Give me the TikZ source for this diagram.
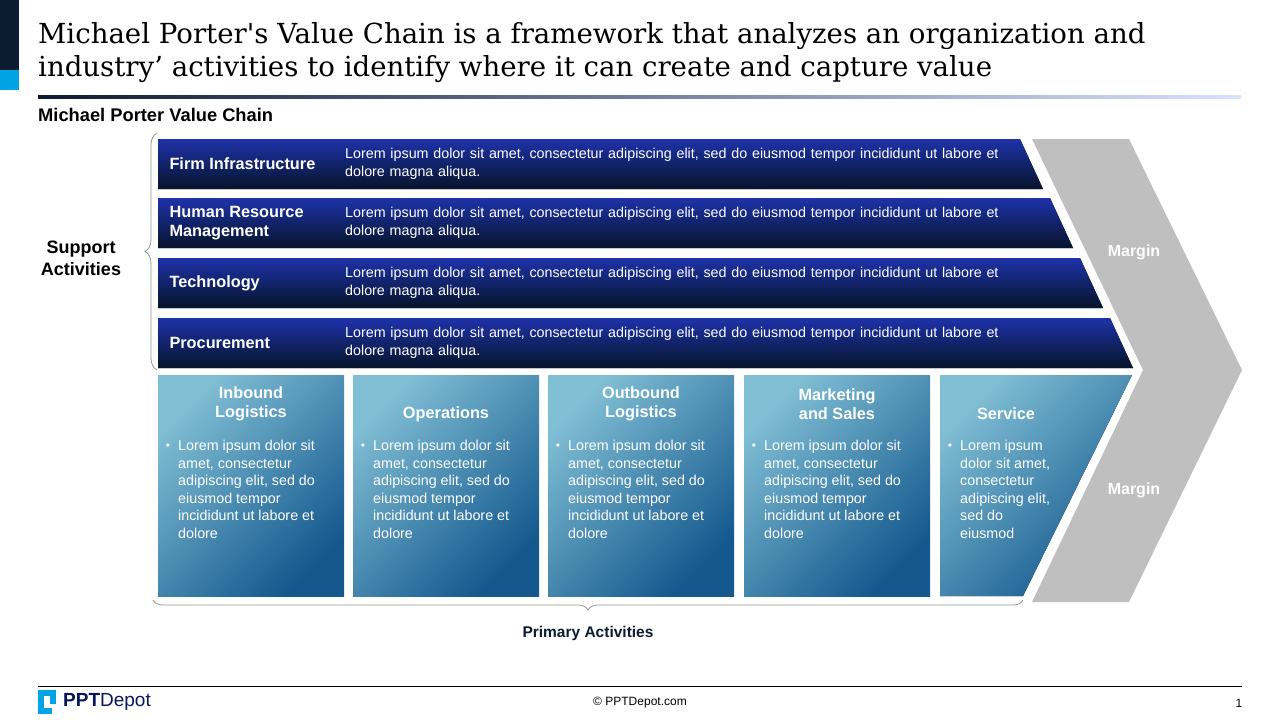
\documentclass[tikz,border=0pt]{standalone}
\usepackage{fontspec}
\setmainfont{Liberation Sans}
\newfontfamily\titlefont{DejaVu Serif}
\usetikzlibrary{decorations.pathreplacing}
\definecolor{navy}{RGB}{12,28,48}
\definecolor{cyanx}{RGB}{0,164,228}
\definecolor{bartop}{RGB}{30,50,170}
\definecolor{barbot}{RGB}{6,20,42}
\definecolor{plight}{RGB}{128,190,212}
\definecolor{pdark}{RGB}{20,88,142}
\definecolor{chev}{RGB}{191,191,191}
\definecolor{brace}{RGB}{150,150,150}
\tikzset{
  supbar/.style={top color=bartop,bottom color=barbot,draw=none},
  primbox/.style={shading=axis,top color=plight,bottom color=pdark,shading angle=45,draw=none},
  bhead/.style={text=white,font=\bfseries\fontsize{16.3}{19}\selectfont,anchor=west,align=left},
  bdesc/.style={text=white,font=\fontsize{14.3}{18}\selectfont,anchor=west,align=left,text width=680pt,inner sep=0pt},
  phead/.style={text=white,font=\bfseries\fontsize{16.3}{19}\selectfont,align=center},
  pbody/.style={text=white,font=\fontsize{14.3}{17.6}\selectfont,align=left,anchor=north west,inner sep=0pt},
  margin/.style={text=white,font=\bfseries\fontsize{16}{19}\selectfont},
}
\begin{document}
\begin{tikzpicture}[x=1pt,y=-1pt]
\useasboundingbox (0,0) rectangle (1280,720);
\fill[white] (0,0) rectangle (1280,720);
% accent
\fill[navy] (0,0) rectangle (19,70);
\fill[cyanx] (0,70) rectangle (19,90);
% title
\node[anchor=north west,inner sep=0pt,align=left,font=\titlefont\fontsize{27.6}{33}\selectfont,text=black] (title) at (38,22)
 {Michael Porter's Value Chain is a framework that analyzes an organization and\\industry’ activities to identify where it can create and capture value};
\shade[left color=navy,right color=cyan!25!blue!15] (38,95) rectangle (1241,98);
\node[anchor=west,inner sep=0pt,font=\bfseries\fontsize{18.3}{20}\selectfont] (sub) at (38,115) {Michael Porter Value Chain};
% chevron
\fill[chev] (1032,139) -- (1129,139) -- (1242,370) -- (1129,602) -- (1032,602) -- (1143,370) -- cycle;
\node[margin] (m1) at (1134,252) {Margin};
\node[margin] (m2) at (1134,490) {Margin};
% support bars
\foreach \i/\t/\h in {0/139/{Firm Infrastructure},1/198/{Human Resource\\Management},2/258/{Technology},3/318/{Procurement}}{
  \fill[supbar] (158,\t) -- ({1020+30*\i},\t) -- ({1043+30*\i},\t+50) -- (158,\t+50) -- cycle;
  \node[bhead] (sh\i) at (166,\t+25) {\h};
  \node[bdesc] (sd\i) at (345,\t+25) {Lorem ipsum dolor sit amet, consectetur adipiscing elit, sed do eiusmod tempor incididunt ut labore et\\dolore magna aliqua.};
}
% primary boxes
\foreach \i/\x/\hy/\h in {0/158/404/{Inbound\\Logistics},1/353/414/{Operations},2/548/404/{Outbound\\Logistics},3/744/404/{Marketing\\and Sales}}{
  \fill[primbox] (\x,375) rectangle (\x+186,596);
  \node[phead] (ph\i) at (\x+93,\hy) {\h};
  \node[text=white,font=\fontsize{12}{14}\selectfont] (pb\i) at (\x+10,447) {•};
  \node[pbody] (pt\i) at (\x+20,440) {Lorem ipsum dolor sit\\amet, consectetur\\adipiscing elit, sed do\\eiusmod tempor\\incididunt ut labore et\\dolore};
}
\fill[primbox] (940,375) -- (1132,375) -- (1023,596) -- (940,596) -- cycle;
\node[phead] (ph4) at (1006,414) {Service};
\node[text=white,font=\fontsize{12}{14}\selectfont] (pb4) at (950,447) {•};
\node[pbody] (pt4) at (960,440) {Lorem ipsum\\dolor sit amet,\\consectetur\\adipiscing elit,\\sed do\\eiusmod};
% braces
\coordinate (bs1) at (157,370);
\coordinate (bs2) at (157,133);
\draw[brace,line width=0.8pt,decorate,decoration={brace,amplitude=12pt}] (bs1) -- (bs2);
\node[font=\bfseries\fontsize{18}{22}\selectfont,align=center] (supp) at (81,258) {Support\\Activities};
\coordinate (bp1) at (1023,600);
\coordinate (bp2) at (153,600);
\draw[brace,line width=0.8pt,decorate,decoration={brace,amplitude=10pt}] (bp1) -- (bp2);
\node[font=\bfseries\fontsize{15.5}{18}\selectfont,text=navy] (prim) at (588,633) {Primary Activities};
% footer
\draw[black,line width=1pt] (38,686) -- (1242,686);
\node[font=\fontsize{12}{14}\selectfont] (copy) at (640,703) {© PPTDepot.com};
\node[font=\fontsize{12}{14}\selectfont] (pg) at (1239,703) {1};
\fill[cyanx] (38,690) rectangle (44,714);
\fill[cyanx] (38,708) rectangle (52,714);
\fill[cyanx] (38,690) rectangle (56,696);
\fill[white] (44,696) rectangle (52,708);
\fill[cyanx] (50,696) rectangle (56,704);
\node[anchor=west,inner sep=0pt,text=navy!80!blue,font=\fontsize{19}{22}\selectfont] (logo) at (63,702) {\textbf{PPT}Depot};
\end{tikzpicture}
\end{document}
